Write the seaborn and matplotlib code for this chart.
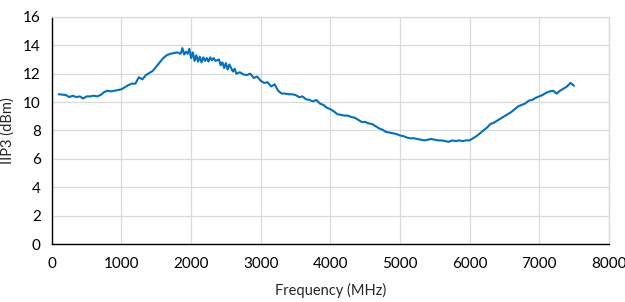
import numpy as np
import pandas as pd
import matplotlib
matplotlib.use("Agg")
import matplotlib.pyplot as plt
import seaborn as sns

# Frequency (MHz) and IIP3 (dBm)
freq = [100, 200, 250, 300, 350, 400, 450, 500, 550, 600, 650, 700, 750, 800, 850,
        900, 950, 1000, 1050, 1100, 1150, 1200, 1250, 1300, 1350, 1400, 1450, 1500,
        1550, 1600, 1650, 1700, 1750, 1800, 1850, 1875, 1900, 1925, 1950, 1975, 2000,
        2025, 2050, 2075, 2100, 2125, 2150, 2175, 2200, 2225, 2250, 2275, 2300, 2325,
        2350, 2400, 2425, 2450, 2475, 2500, 2525, 2550, 2600, 2625, 2650,
        2700, 2750, 2800, 2850, 2900, 2950, 3000, 3050, 3100, 3150, 3200, 3250, 3300,
        3350, 3400, 3450, 3500, 3550, 3600, 3650, 3700, 3750, 3800, 3850, 3900, 3950,
        4000, 4050, 4100, 4150, 4200, 4250, 4300, 4350, 4400, 4450, 4500, 4550, 4600,
        4650, 4700, 4750, 4800, 4850, 4900, 4950, 5000, 5050, 5100, 5150, 5200, 5250,
        5300, 5350, 5400, 5450, 5500, 5550, 5600, 5650, 5700, 5750, 5800, 5850, 5900,
        5950, 6000, 6050, 6100, 6150, 6200, 6250, 6300, 6350, 6400, 6450, 6500, 6550,
        6600, 6650, 6700, 6750, 6800, 6850, 6900, 6950, 7000, 7050, 7100, 7150, 7200,
        7250, 7300, 7350, 7400, 7450, 7500]
iip3 = [10.55, 10.5, 10.35, 10.45, 10.35, 10.4, 10.25, 10.4, 10.4, 10.45, 10.4, 10.5,
        10.7, 10.8, 10.75, 10.8, 10.85, 10.9, 11.05, 11.2, 11.3, 11.3, 11.75, 11.6,
        11.9, 12.05, 12.2, 12.5, 12.8, 13.1, 13.3, 13.4, 13.45, 13.5, 13.4, 13.8, 13.35,
        13.55, 13.4, 13.75, 13.1, 13.5, 12.9, 13.3, 12.85, 13.2, 12.8, 13.15, 12.9,
        13.1, 12.85, 13.15, 12.95, 13.1, 12.9, 13.0, 12.6, 12.8, 12.4, 12.75, 12.3,
        12.65, 12.15, 12.35, 12.0, 12.1, 11.95, 11.9, 12.0, 11.7, 11.8, 11.5, 11.35,
        11.4, 11.1, 11.25, 10.8, 10.6, 10.6, 10.55, 10.55, 10.5, 10.35, 10.4, 10.2,
        10.15, 10.05, 10.15, 9.9, 9.8, 9.6, 9.5, 9.35, 9.15, 9.1, 9.05, 9.05, 8.95, 8.9,
        8.75, 8.6, 8.6, 8.5, 8.45, 8.3, 8.15, 8.05, 7.9, 7.85, 7.8, 7.75, 7.65, 7.6, 7.5,
        7.45, 7.45, 7.4, 7.35, 7.3, 7.35, 7.4, 7.35, 7.3, 7.3, 7.25, 7.2, 7.3, 7.25, 7.3,
        7.25, 7.3, 7.3, 7.45, 7.6, 7.8, 8.0, 8.2, 8.45, 8.55, 8.7, 8.85, 9.0, 9.15, 9.3,
        9.5, 9.7, 9.8, 9.9, 10.1, 10.15, 10.3, 10.4, 10.5, 10.65, 10.75, 10.8, 10.6,
        10.8, 10.95, 11.1, 11.35, 11.15]

df = pd.DataFrame({"freq": freq, "iip3": iip3})

sns.set_theme(style="whitegrid")
plt.rcParams["font.family"] = ["Lato", "DejaVu Sans"]

fig = plt.figure(figsize=(6.25, 3.02), dpi=100)
ax = fig.add_axes([0.083, 0.192, 0.891, 0.752])

sns.lineplot(data=df, x="freq", y="iip3", ax=ax, color="#0070C0", linewidth=1.5)

ax.set_xlim(0, 8000)
ax.set_ylim(0, 16)
ax.set_xticks(np.arange(0, 8001, 1000))
ax.set_yticks(np.arange(0, 17, 2))
ax.grid(True, color="#D9D9D9", linewidth=0.9)
ax.tick_params(axis="both", labelsize=11, length=0, colors="black")
ax.tick_params(axis="x", pad=9)
ax.tick_params(axis="y", pad=8)

for side in ["top", "right"]:
    ax.spines[side].set_color("#D9D9D9")
    ax.spines[side].set_linewidth(0.9)
for side in ["left", "bottom"]:
    ax.spines[side].set_color("black")
    ax.spines[side].set_linewidth(1.0)

ax.set_xlabel("Frequency (MHz)", fontsize=10.5, labelpad=9)
ax.set_ylabel("IIP3 (dBm)", fontsize=10.5)
ax.yaxis.set_label_coords(-0.066, 0.5)

fig.savefig("out.png", dpi=100)
